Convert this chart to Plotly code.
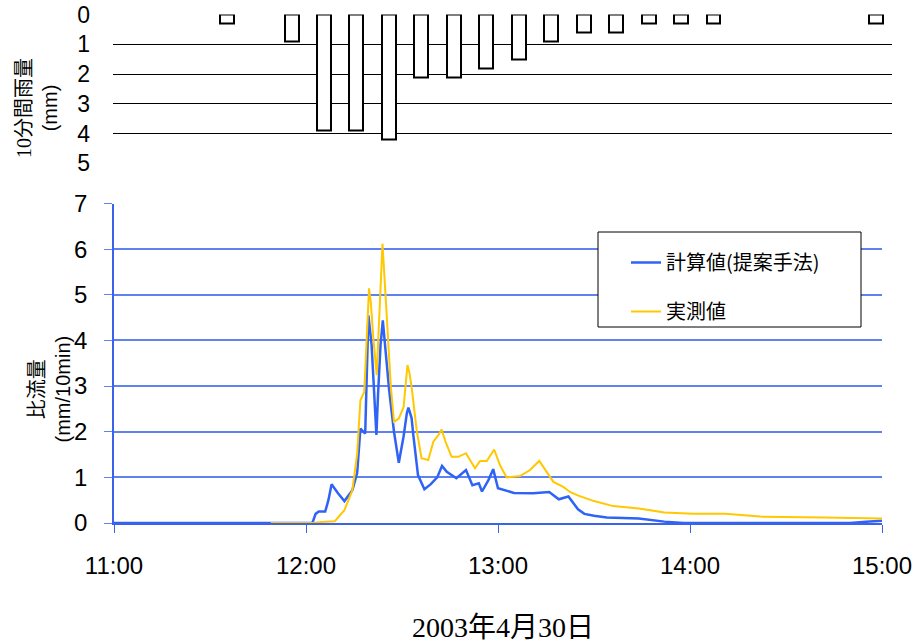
import pandas as pd
import plotly.graph_objects as go

DAY_START = "2003-04-30 11:00"
DAY_END = "2003-04-30 15:00"

# 10-minute rainfall (period start times, mm)
rain_start = ["11:30", "11:50", "12:00", "12:10", "12:20", "12:30", "12:40", "12:50",
              "13:00", "13:10", "13:20", "13:30", "13:40", "13:50", "14:00", "14:50"]
rain_mm = [0.3, 0.9, 3.9, 3.9, 4.2, 2.1, 2.1, 1.8, 1.5, 0.9, 0.6, 0.6, 0.3, 0.3, 0.3, 0.3]

# calculated specific discharge (minutes after 11:00, mm/10min)
calc_min = [0, 62, 63, 64, 66, 67, 68, 70, 72, 74.5, 76, 77, 78.5, 79, 79.5, 80.5, 81.5, 82,
            82.5, 83.3, 84, 85, 86, 87.5, 89, 90.5, 91.5, 92, 93, 93.5, 95, 97, 99, 101, 102.5,
            104, 107, 110, 112, 114, 115, 117, 118.5, 120, 125, 131, 136, 139, 142, 145, 147,
            150, 154, 164, 172, 178, 230, 235, 240]
calc_val = [0, 0, 0.2, 0.25, 0.25, 0.5, 0.85, 0.65, 0.48, 0.72, 1.1, 2.07, 1.96, 3.6, 4.55, 3.9,
            2.7, 1.93, 2.8, 3.9, 4.44, 3.6, 2.9, 2.0, 1.32, 1.9, 2.4, 2.53, 2.3, 1.95, 1.05,
            0.74, 0.85, 1.0, 1.25, 1.12, 0.98, 1.16, 0.83, 0.87, 0.69, 0.94, 1.18, 0.76, 0.66,
            0.65, 0.68, 0.52, 0.58, 0.3, 0.2, 0.16, 0.12, 0.1, 0.03, 0, 0, 0.03, 0.05]

# observed specific discharge (minutes after 11:00, mm/10min)
obs_min = [49, 62, 66, 69, 72, 74.5, 76, 77, 78.2, 79, 79.7, 80.3, 81, 82.1, 83, 83.9, 84.6,
           85.4, 86.5, 87.5, 89, 90.5, 91.2, 91.7, 92.3, 93, 94.6, 96.1, 98.2, 99.8, 101.4,
           102.4, 103.5, 105.5, 107.6, 110, 112.8, 114.4, 116.5, 118.8, 120.6, 122.7, 126.9,
           130, 132.9, 135, 137.3, 140.4, 142.5, 145.1, 150, 156, 164, 172, 181, 191, 202,
           222, 240]
obs_val = [0, 0, 0.03, 0.04, 0.28, 0.72, 1.52, 2.69, 2.87, 4.3, 5.14, 4.8, 4.08, 3.24, 4.6,
           6.12, 5.3, 4.22, 3.0, 2.22, 2.29, 2.54, 3.2, 3.46, 3.3, 2.98, 2.03, 1.42, 1.38,
           1.78, 1.93, 2.05, 1.8, 1.45, 1.45, 1.53, 1.2, 1.36, 1.36, 1.61, 1.27, 1.0, 1.03,
           1.16, 1.36, 1.15, 0.9, 0.79, 0.68, 0.6, 0.48, 0.37, 0.32, 0.23, 0.2, 0.2, 0.14,
           0.12, 0.1]

base = pd.Timestamp(DAY_START)
rain_x = [pd.Timestamp("2003-04-30 " + t) + pd.Timedelta(minutes=5) for t in rain_start]
calc_x = [base + pd.Timedelta(minutes=m) for m in calc_min]
obs_x = [base + pd.Timedelta(minutes=m) for m in obs_min]

W, H = 917, 643
BLUE_GRID = "#5f82f0"
BLUE_AXIS = "#3a62ea"
SANS = "Liberation Sans, Arial, Noto Sans CJK JP"
JP = "Noto Sans CJK JP"
SERIF = "Liberation Serif, Noto Sans CJK JP"

fig = go.Figure()

fig.add_trace(go.Bar(
    x=rain_x, y=rain_mm, xaxis="x2", yaxis="y2",
    width=4.3 * 60 * 1000,
    marker=dict(color="white", line=dict(color="black", width=2)),
    showlegend=False,
))

fig.add_trace(go.Scatter(
    x=calc_x, y=calc_val, mode="lines", name="計算値(提案手法)",
    line=dict(color="#2f63f5", width=2.5), legendgroup="a",
))
fig.add_trace(go.Scatter(
    x=obs_x, y=obs_val, mode="lines", name="実測値",
    line=dict(color="#ffc800", width=2), legendgroup="b",
))

fig.update_layout(
    width=W, height=H,
    margin=dict(l=0, r=0, t=0, b=0),
    paper_bgcolor="white", plot_bgcolor="white",
    bargap=0,
    xaxis=dict(
        domain=[114 / W, 882 / W], anchor="y", type="date",
        range=[DAY_START, DAY_END],
        tick0=DAY_START, dtick=3600000, tickformat="%H:%M",
        ticks="outside", ticklen=8, tickcolor=BLUE_AXIS,
        showline=True, linecolor=BLUE_AXIS, linewidth=1.5,
        showgrid=False, zeroline=False,
        tickfont=dict(family=SANS, size=24, color="black"),
        ticklabelstandoff=12, automargin=False,
    ),
    yaxis=dict(
        domain=[1 - 523 / H, 1 - 203.5 / H], anchor="x",
        range=[0, 7], dtick=1, tick0=0,
        ticks="outside", ticklen=8, tickcolor=BLUE_GRID,
        showline=True, linecolor=BLUE_AXIS, linewidth=1.5,
        showgrid=True, gridcolor=BLUE_GRID, gridwidth=1.5, zeroline=False,
        tickfont=dict(family=SANS, size=24, color="black"),
        ticklabelstandoff=12, automargin=False,
    ),
    xaxis2=dict(
        domain=[113 / W, 892 / W], anchor="y2", type="date",
        range=[DAY_START, DAY_END], visible=False,
    ),
    yaxis2=dict(
        domain=[1 - 163.3 / H, 1 - 14.5 / H], anchor="x2",
        range=[5, 0], dtick=1, tick0=0,
        showline=False, ticks="", showgrid=True, gridcolor="black", gridwidth=1,
        zeroline=False,
        tickfont=dict(family=SANS, size=23, color="black"),
        ticklabelstandoff=22, automargin=False,
    ),
    legend=dict(
        x=626 / W, y=1 - 243 / H, xanchor="left", yanchor="top",
        bgcolor="rgba(0,0,0,0)", borderwidth=0,
        font=dict(family=JP, size=20, color="black"),
        tracegroupgap=20,
    ),
    shapes=[dict(
        type="rect", xref="paper", yref="paper", layer="above",
        x0=598 / W, x1=861 / W, y0=1 - 327 / H, y1=1 - 232 / H,
        line=dict(color="black", width=1), fillcolor="white",
    )],
    annotations=[
        dict(text="10分間雨量<br><span style='font-family:Liberation Sans, Noto Sans CJK JP'>(mm)</span>",
             xref="paper", yref="paper", x=37 / W, y=1 - 108 / H,
             xanchor="center", yanchor="middle", textangle=-90, showarrow=False,
             font=dict(family=SERIF, size=20, color="black")),
        dict(text="比流量<br><span style='font-family:Liberation Sans, Noto Sans CJK JP'>(mm/10min)</span>",
             xref="paper", yref="paper", x=46.5 / W, y=1 - 389 / H,
             xanchor="center", yanchor="middle", textangle=-90, showarrow=False,
             font=dict(family=JP, size=20, color="black")),
        dict(text="2003年4月30日", xref="paper", yref="paper", x=503 / W, y=1 - 627 / H,
             xanchor="center", yanchor="middle", showarrow=False,
             font=dict(family=SERIF, size=28, color="black")),
    ],
)

fig.write_html("out.html", config={"displayModeBar": False},
               post_script="document.body.style.margin='0px';")
